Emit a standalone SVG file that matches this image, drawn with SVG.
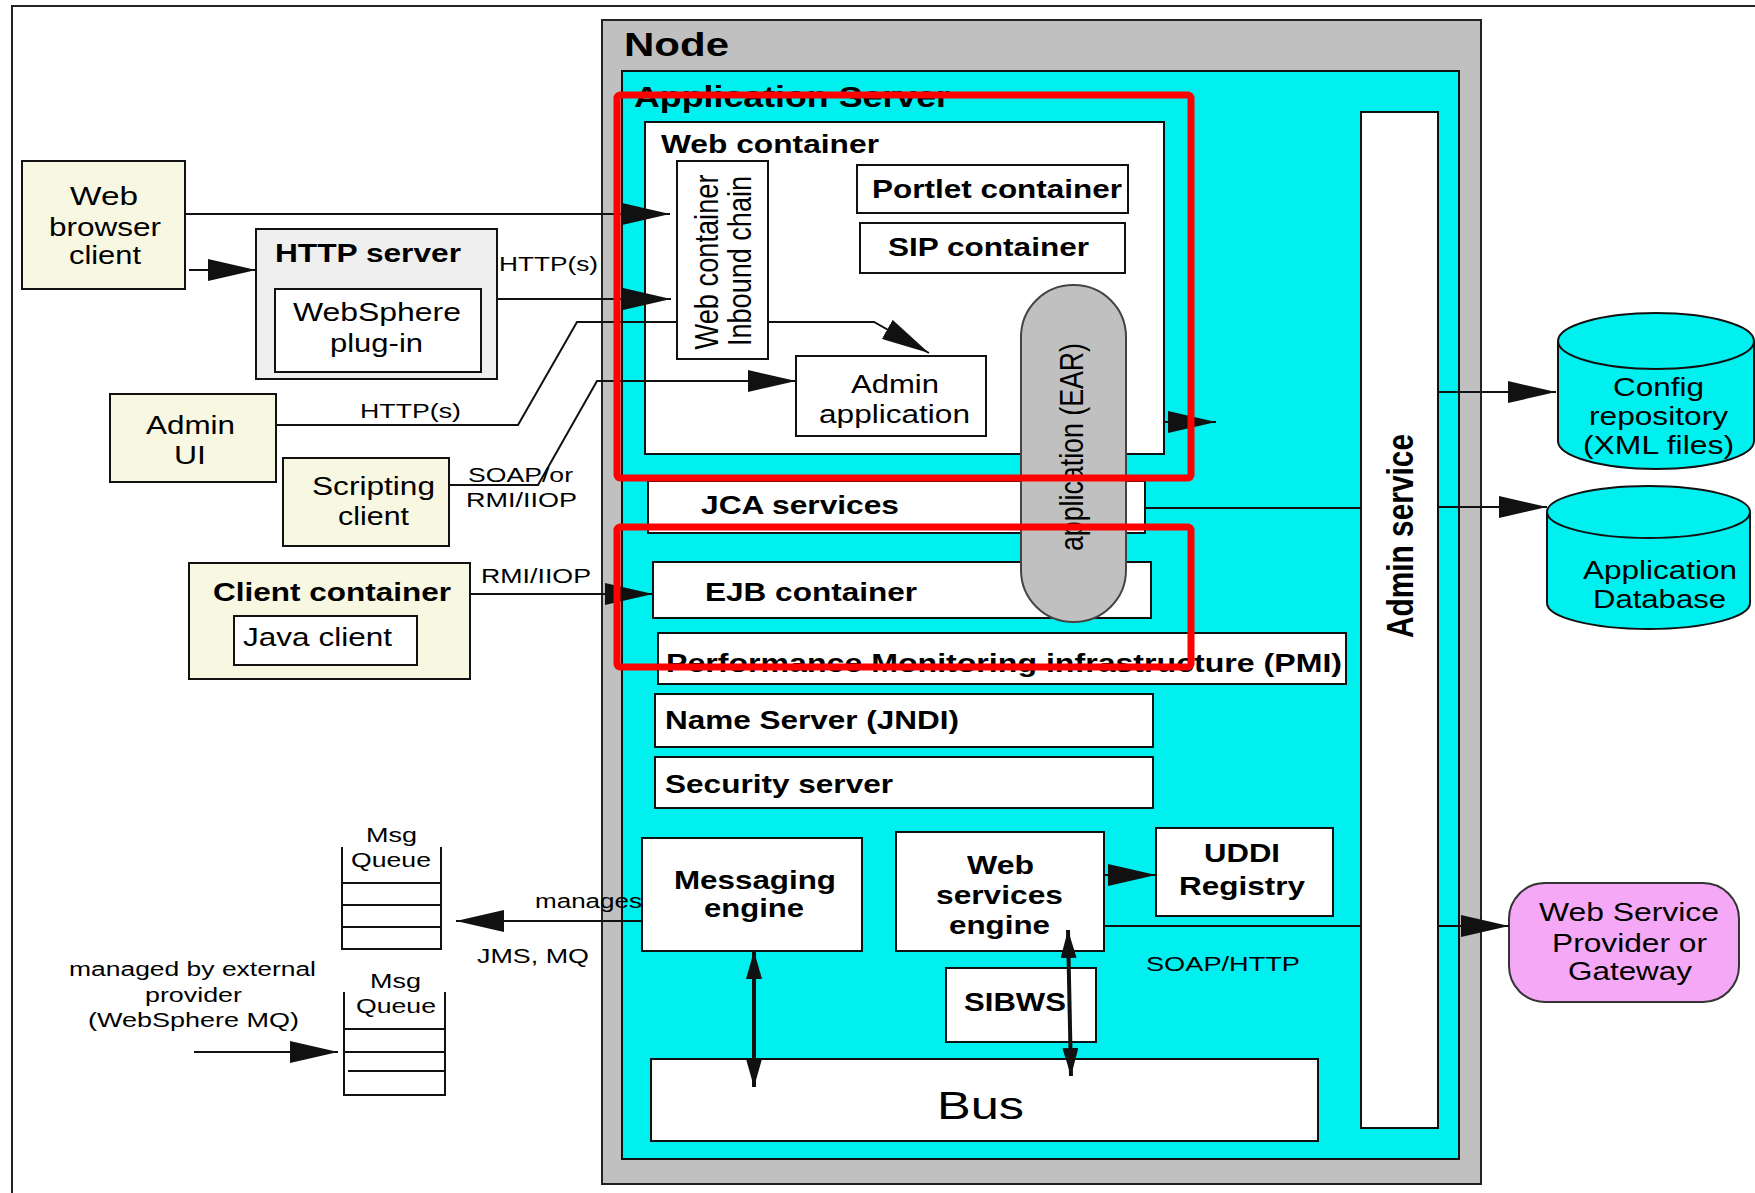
<svg xmlns="http://www.w3.org/2000/svg" width="1755" height="1193" viewBox="0 0 1755 1193">
<style>
.frame{fill:none;stroke:#222;stroke-width:2}
.box{fill:#fff;stroke:#111;stroke-width:2}
.cream{fill:#f8f7e2;stroke:#111;stroke-width:2}
.grey{fill:#efefef;stroke:#111;stroke-width:2}
.node{fill:#c0c0c0;stroke:#222;stroke-width:2}
.cyan{fill:#00efef;stroke:#111;stroke-width:2}
.pill{fill:#c0c0c0;stroke:#444;stroke-width:2}
.pink{fill:#f5a8f5;stroke:#333;stroke-width:2}
.q{fill:none;stroke:#111;stroke-width:2}
.t{font-family:"Liberation Sans",Arial,Helvetica,sans-serif;fill:#000;font-size:26px}
.b{font-weight:bold}
.s{font-size:20px}
.m{text-anchor:middle}
.conn{fill:none;stroke:#111;stroke-width:2}
.thick{fill:none;stroke:#111;stroke-width:4}
.red{fill:none;stroke:#ff0000;stroke-width:7}
</style>
<defs>
<marker id="ah" viewBox="0 0 48 22" refX="48" refY="11" markerWidth="48" markerHeight="22" markerUnits="userSpaceOnUse" orient="auto"><path d="M0,0 L48,11 L0,22 Z" fill="#111"/></marker>
<marker id="ahs" viewBox="0 0 28 16" refX="28" refY="8" markerWidth="28" markerHeight="16" markerUnits="userSpaceOnUse" orient="auto-start-reverse"><path d="M0,0 L28,8 L0,16 Z" fill="#111"/></marker>
</defs>

<path class="frame" d="M12,1193 V6 H1755"/>

<g id="node">
<rect class="node" x="602" y="20" width="879" height="1164"/>
<text class="t b" x="624" y="56" style="font-size:33px" textLength="105" lengthAdjust="spacingAndGlyphs">Node</text>
</g>
<g id="application-server">
<rect class="cyan" x="622" y="71" width="837" height="1088"/>
<text class="t b" x="634" y="107" style="font-size:29px" textLength="316" lengthAdjust="spacingAndGlyphs">Application Server</text>
</g>
<g id="web-container">
<rect class="box" x="645" y="122" width="519" height="332"/>
<text class="t b" x="661" y="153" textLength="218" lengthAdjust="spacingAndGlyphs">Web container</text>
</g>
<g id="inbound-chain">
<rect class="box" x="677" y="161" width="91" height="198"/>
<text class="t m" transform="translate(718,262) rotate(-90) scale(1,1.25)" style="font-size:27px" textLength="175" lengthAdjust="spacingAndGlyphs">Web container</text>
<text class="t m" transform="translate(751,261) rotate(-90) scale(1,1.25)" style="font-size:27px" textLength="170" lengthAdjust="spacingAndGlyphs">Inbound chain</text>
</g>
<g id="portlet-container">
<rect class="box" x="857" y="165" width="271" height="48"/>
<text class="t b" x="872" y="198" textLength="250" lengthAdjust="spacingAndGlyphs">Portlet container</text>
</g>
<g id="sip-container">
<rect class="box" x="860" y="223" width="265" height="50"/>
<text class="t b" x="888" y="256" textLength="201" lengthAdjust="spacingAndGlyphs">SIP container</text>
</g>
<g id="admin-application">
<rect class="box" x="796" y="356" width="190" height="80"/>
<text class="t" x="851" y="393" textLength="88" lengthAdjust="spacingAndGlyphs">Admin</text>
<text class="t" x="819" y="423" textLength="151" lengthAdjust="spacingAndGlyphs">application</text>
</g>
<g id="jca-services">
<rect class="box" x="648" y="481" width="497" height="52"/>
<text class="t b" x="701" y="514" textLength="198" lengthAdjust="spacingAndGlyphs">JCA services</text>
</g>
<g id="ejb-container">
<rect class="box" x="653" y="562" width="498" height="56"/>
<text class="t b" x="705" y="601" textLength="212" lengthAdjust="spacingAndGlyphs">EJB container</text>
</g>
<g id="application-ear">
<rect class="pill" x="1021" y="285" width="105" height="337" rx="52" ry="52"/>
<text class="t m" transform="translate(1083,447) rotate(-90) scale(1,1.25)" style="font-size:27px" textLength="208" lengthAdjust="spacingAndGlyphs">application (EAR)</text>
</g>
<g id="pmi">
<rect class="box" x="658" y="633" width="688" height="51"/>
<text class="t b" x="666" y="672" textLength="676" lengthAdjust="spacingAndGlyphs">Performance Monitoring  infrastructure (PMI)</text>
</g>
<g id="name-server">
<rect class="box" x="655" y="694" width="498" height="53"/>
<text class="t b" x="665" y="729" textLength="294" lengthAdjust="spacingAndGlyphs">Name Server (JNDI)</text>
</g>
<g id="security-server">
<rect class="box" x="655" y="757" width="498" height="51"/>
<text class="t b" x="665" y="793" textLength="228" lengthAdjust="spacingAndGlyphs">Security server</text>
</g>
<g id="messaging-engine">
<rect class="box" x="642" y="838" width="220" height="113"/>
<text class="t b" x="674" y="889" textLength="162" lengthAdjust="spacingAndGlyphs">Messaging</text>
<text class="t b" x="704" y="917" textLength="100" lengthAdjust="spacingAndGlyphs">engine</text>
</g>
<g id="web-services-engine">
<rect class="box" x="896" y="832" width="208" height="119"/>
<text class="t b" x="967" y="874" textLength="67" lengthAdjust="spacingAndGlyphs">Web</text>
<text class="t b" x="936" y="904" textLength="127" lengthAdjust="spacingAndGlyphs">services</text>
<text class="t b" x="949" y="934" textLength="101" lengthAdjust="spacingAndGlyphs">engine</text>
</g>
<g id="uddi-registry">
<rect class="box" x="1156" y="828" width="177" height="88"/>
<text class="t b" x="1204" y="862" textLength="76" lengthAdjust="spacingAndGlyphs">UDDI</text>
<text class="t b" x="1179" y="895" textLength="126" lengthAdjust="spacingAndGlyphs">Registry</text>
</g>
<g id="sibws">
<rect class="box" x="946" y="968" width="150" height="74"/>
<text class="t b" x="964" y="1011" textLength="102" lengthAdjust="spacingAndGlyphs">SIBWS</text>
</g>
<g id="bus">
<rect class="box" x="651" y="1059" width="667" height="82"/>
<text class="t" x="937" y="1119" style="font-size:38px" textLength="87" lengthAdjust="spacingAndGlyphs">Bus</text>
</g>
<g id="admin-service">
<rect class="box" x="1361" y="112" width="77" height="1016"/>
<text class="t b m" transform="translate(1413,536) rotate(-90) scale(1,1.25)" style="font-size:30px" textLength="204" lengthAdjust="spacingAndGlyphs">Admin service</text>
</g>

<g id="web-browser-client">
<rect class="cream" x="22" y="161" width="163" height="128"/>
<text class="t" x="70" y="205" textLength="68" lengthAdjust="spacingAndGlyphs">Web</text>
<text class="t" x="49" y="236" textLength="112" lengthAdjust="spacingAndGlyphs">browser</text>
<text class="t" x="69" y="264" textLength="72" lengthAdjust="spacingAndGlyphs">client</text>
</g>
<g id="http-server">
<rect class="grey" x="256" y="229" width="241" height="150"/>
<text class="t b" x="275" y="262" style="font-size:25px" textLength="186" lengthAdjust="spacingAndGlyphs">HTTP server</text>
</g>
<g id="websphere-plugin">
<rect class="box" x="275" y="289" width="206" height="83"/>
<text class="t" x="293" y="321" textLength="168" lengthAdjust="spacingAndGlyphs">WebSphere</text>
<text class="t" x="330" y="352" textLength="93" lengthAdjust="spacingAndGlyphs">plug-in</text>
</g>
<g id="admin-ui">
<rect class="cream" x="110" y="394" width="166" height="88"/>
<text class="t" x="146" y="434" textLength="89" lengthAdjust="spacingAndGlyphs">Admin</text>
<text class="t" x="174" y="464" textLength="32" lengthAdjust="spacingAndGlyphs">UI</text>
</g>
<g id="scripting-client">
<rect class="cream" x="283" y="458" width="166" height="88"/>
<text class="t" x="312" y="495" textLength="123" lengthAdjust="spacingAndGlyphs">Scripting</text>
<text class="t" x="338" y="525" textLength="71" lengthAdjust="spacingAndGlyphs">client</text>
</g>
<g id="client-container">
<rect class="cream" x="189" y="563" width="281" height="116"/>
<text class="t b" x="213" y="601" textLength="238" lengthAdjust="spacingAndGlyphs">Client container</text>
<rect class="box" x="234" y="616" width="183" height="49"/>
<text class="t" x="243" y="646" textLength="149" lengthAdjust="spacingAndGlyphs">Java client</text>
</g>
<g id="msg-queue-1">
<path class="q" d="M342,847 V949 H441 V847 M342,883 H441 M342,905 H441 M342,927 H441"/>
<text class="t s" x="366" y="842" textLength="51" lengthAdjust="spacingAndGlyphs">Msg</text>
<text class="t s" x="351" y="867" textLength="80" lengthAdjust="spacingAndGlyphs">Queue</text>
</g>
<g id="msg-queue-2">
<path class="q" d="M344,992 V1095 H445 V992 M344,1029 H445 M344,1052 H445 M348,1071 H445"/>
<text class="t s" x="370" y="988" textLength="51" lengthAdjust="spacingAndGlyphs">Msg</text>
<text class="t s" x="356" y="1013" textLength="80" lengthAdjust="spacingAndGlyphs">Queue</text>
</g>
<g id="config-repository">
<path class="cyan" d="M1558,341 A98,28 0 0 1 1754,341 V441 A98,28 0 0 1 1558,441 Z"/>
<path class="q" d="M1558,341 A98,28 0 0 0 1754,341"/>
<text class="t" x="1613" y="396" style="font-size:25px" textLength="91" lengthAdjust="spacingAndGlyphs">Config</text>
<text class="t" x="1589" y="425" style="font-size:25px" textLength="139" lengthAdjust="spacingAndGlyphs">repository</text>
<text class="t" x="1583" y="454" style="font-size:25px" textLength="151" lengthAdjust="spacingAndGlyphs">(XML files)</text>
</g>
<g id="application-database">
<path class="cyan" d="M1547,512 A101.5,26 0 0 1 1750,512 V603 A101.5,26 0 0 1 1547,603 Z"/>
<path class="q" d="M1547,512 A101.5,26 0 0 0 1750,512"/>
<text class="t" x="1583" y="579" style="font-size:25px" textLength="154" lengthAdjust="spacingAndGlyphs">Application</text>
<text class="t" x="1593" y="608" style="font-size:25px" textLength="133" lengthAdjust="spacingAndGlyphs">Database</text>
</g>
<g id="web-service-provider">
<rect class="pink" x="1509" y="883" width="230" height="119" rx="36" ry="36"/>
<text class="t" x="1539" y="921" style="font-size:25px" textLength="180" lengthAdjust="spacingAndGlyphs">Web Service</text>
<text class="t" x="1552" y="952" style="font-size:25px" textLength="155" lengthAdjust="spacingAndGlyphs">Provider or</text>
<text class="t" x="1568" y="980" style="font-size:25px" textLength="124" lengthAdjust="spacingAndGlyphs">Gateway</text>
</g>

<g id="connectors">
<path class="conn" d="M185,214 H670" marker-end="url(#ah)"/>
<path class="conn" d="M189,270 H256" marker-end="url(#ah)"/>
<path class="conn" d="M497,299 H671" marker-end="url(#ah)"/>
<path class="conn" d="M276,425 H518 L577,322 H677 M768,322 H874 L929,353" marker-end="url(#ah)"/>
<path class="conn" d="M449,485 H538 L597,381 H796" marker-end="url(#ah)"/>
<path class="conn" d="M470,594 H653" marker-end="url(#ah)"/>
<path class="conn" d="M1164,422 H1216" marker-end="url(#ah)"/>
<path class="conn" d="M1145,508 H1361"/>
<path class="conn" d="M1438,392 H1556" marker-end="url(#ah)"/>
<path class="conn" d="M1438,507 H1547" marker-end="url(#ah)"/>
<path class="conn" d="M1104,875 H1156" marker-end="url(#ah)"/>
<path class="conn" d="M1104,926 H1361 M1438,926 H1509" marker-end="url(#ah)"/>
<path class="conn" d="M642,921 H456" marker-end="url(#ah)"/>
<path class="conn" d="M194,1052 H338" marker-end="url(#ah)"/>
<path class="thick" d="M754,951 V1087" marker-start="url(#ahs)" marker-end="url(#ahs)"/>
<path class="thick" d="M1068,930 L1071,1076" marker-start="url(#ahs)" marker-end="url(#ahs)"/>
<text class="t s" x="499" y="271" textLength="99" lengthAdjust="spacingAndGlyphs">HTTP(s)</text>
<text class="t s" x="360" y="418" textLength="101" lengthAdjust="spacingAndGlyphs">HTTP(s)</text>
<text class="t s" x="468" y="482" textLength="105" lengthAdjust="spacingAndGlyphs">SOAP/or</text>
<text class="t s" x="466" y="507" textLength="111" lengthAdjust="spacingAndGlyphs">RMI/IIOP</text>
<text class="t s" x="481" y="583" textLength="110" lengthAdjust="spacingAndGlyphs">RMI/IIOP</text>
<text class="t s" x="535" y="908" textLength="107" lengthAdjust="spacingAndGlyphs">manages</text>
<text class="t s" x="477" y="963" textLength="112" lengthAdjust="spacingAndGlyphs">JMS, MQ</text>
<text class="t s" x="1146" y="971" textLength="154" lengthAdjust="spacingAndGlyphs">SOAP/HTTP</text>
<text class="t s" x="69" y="976" textLength="247" lengthAdjust="spacingAndGlyphs">managed by external</text>
<text class="t s" x="145" y="1002" textLength="97" lengthAdjust="spacingAndGlyphs">provider</text>
<text class="t s" x="88" y="1027" textLength="211" lengthAdjust="spacingAndGlyphs">(WebSphere MQ)</text>
</g>

<g id="highlights">
<rect class="red" x="617" y="95" width="574" height="383" rx="3"/>
<rect class="red" x="617" y="527" width="574" height="140" rx="3"/>
</g>
</svg>
